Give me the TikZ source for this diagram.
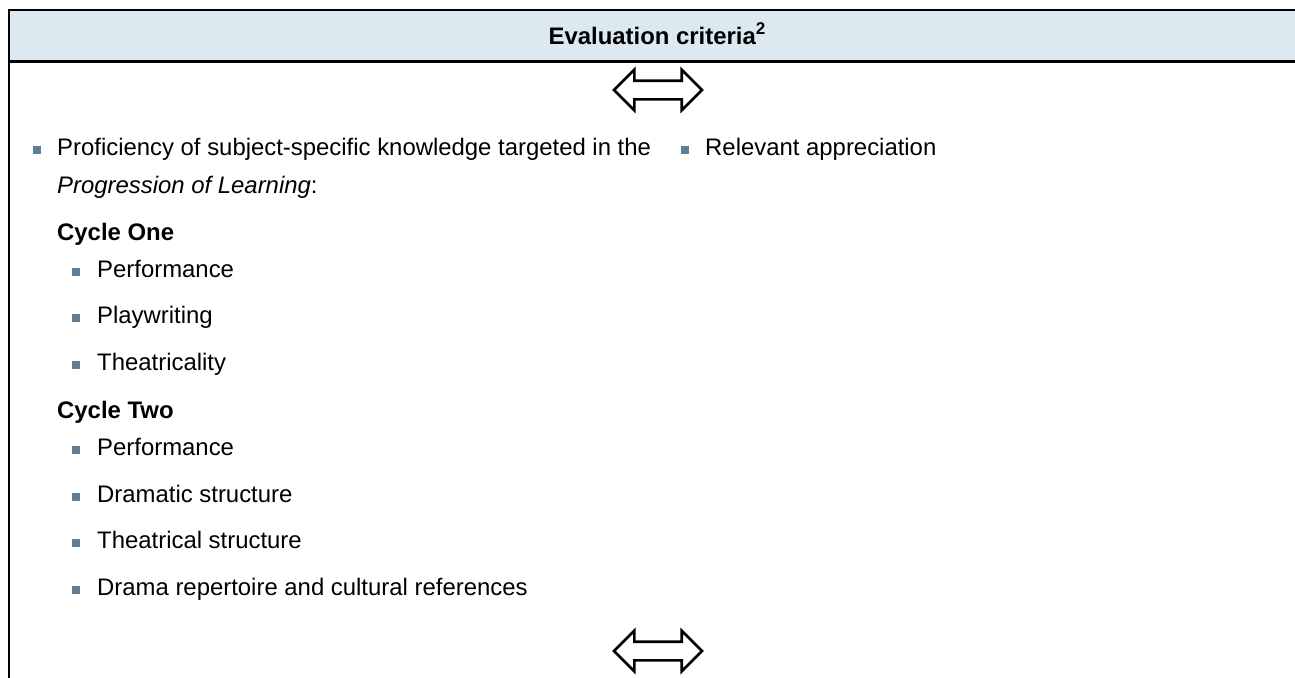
\documentclass[tikz,border=0pt]{standalone}
\usepackage{xcolor}
\usepackage{fontspec}
\setmainfont{Liberation Sans}
\usepackage{tikz}
\usetikzlibrary{shapes,arrows,positioning,calc}
\definecolor{headerblue}{RGB}{220,233,241}
\definecolor{bulletgray}{RGB}{96,125,150}
\tikzstyle{txt} = [anchor=base west, inner sep=0pt, font=\fontsize{23.9}{28}\selectfont]
\tikzstyle{heading} = [txt, font=\fontsize{23.9}{28}\selectfont\bfseries]
\tikzstyle{bulletsq} = [rectangle, fill=bulletgray, minimum size=7.5pt, inner sep=0pt]
\tikzstyle{linkarrow} = [double arrow, draw=black, fill=white, line width=2.6pt, inner sep=8pt, minimum height=88pt, double arrow head extend=11pt]

\begin{document}
\begin{tikzpicture}[x=1pt, y=-1pt]
\useasboundingbox (0,0) rectangle (1295,677);

% Header band
\fill [headerblue] (9,10) rectangle (1300,61);
\draw [line width=2pt] (9,678) -- (9,10) -- (1300,10);
\draw [line width=3.5pt] (8,61.5) -- (1300,61.5);
\node [heading, anchor=base] (head) at (657,45) {Evaluation criteria\raisebox{10pt}{\fontsize{17}{17}\selectfont 2}};

% Link arrows
\node [linkarrow] (arrowtop) at (658,90) {};
\node [linkarrow] (arrowbot) at (658,651) {};

% First column
\node [txt] (prof) at (57,155) {Proficiency of subject-specific knowledge targeted in the};
\node [txt] (prog) at (57,193) {\itshape Progression of Learning\upshape:};
\node [heading] (cycone) at (57,240) {Cycle One};
\node [txt] (perfA) at (97,277) {Performance};
\node [txt] (play) at (97,323) {Playwriting};
\node [txt] (theat) at (97,370) {Theatricality};
\node [heading] (cyctwo) at (57,418) {Cycle Two};
\node [txt] (perfB) at (97,455) {Performance};
\node [txt] (dram) at (97,502) {Dramatic structure};
\node [txt] (theatstr) at (97,548) {Theatrical structure};
\node [txt] (repert) at (97,595) {Drama repertoire and cultural references};

% Second column
\node [txt] (apprec) at (705,155) {Relevant appreciation};

% Bullets
\foreach \item in {prof,apprec}
  \node [bulletsq] at ($(\item.base west)+(-20,-5)$) {};
\foreach \item in {perfA,play,theat,perfB,dram,theatstr,repert}
  \node [bulletsq] at ($(\item.base west)+(-21,-5)$) {};

\end{tikzpicture}
\end{document}
